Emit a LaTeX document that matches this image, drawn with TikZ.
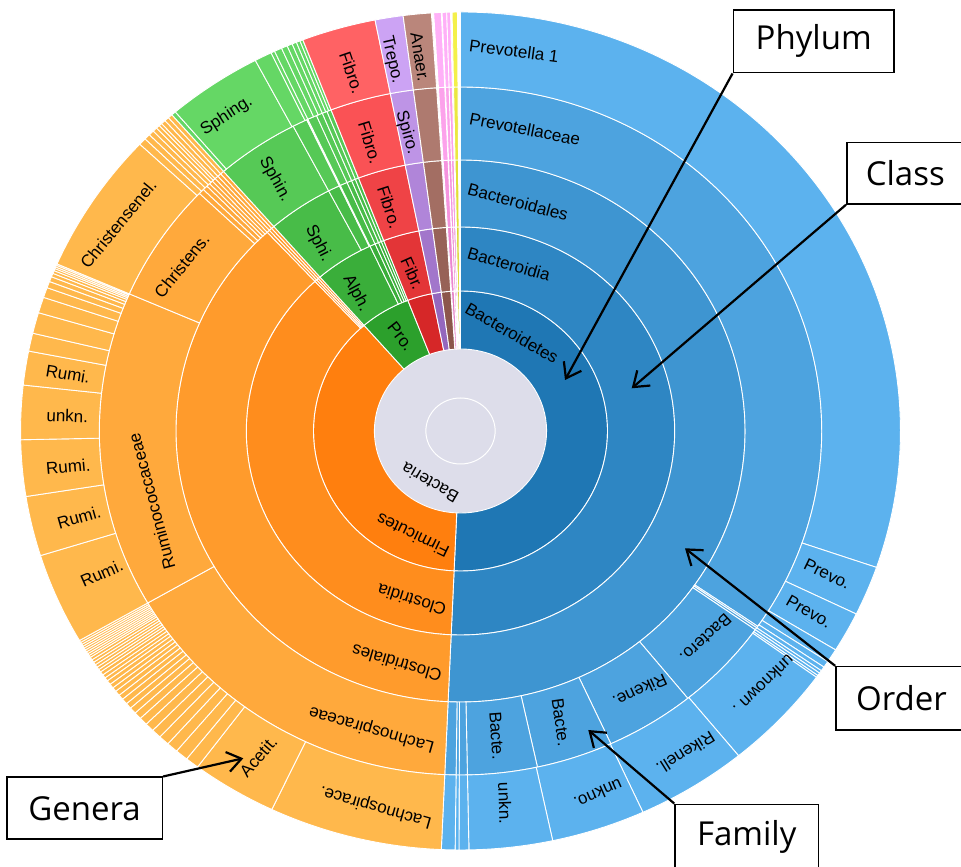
\documentclass[tikz,border=0pt]{standalone}
\usepackage{fontspec}
\setmainfont{Liberation Sans}
\newfontfamily\calloutfont{Open Sans}
\usepackage{tikz}
\usetikzlibrary{arrows.meta}
\definecolor{sbblue1}{RGB}{31,119,180}
\definecolor{sbblue2}{RGB}{46,134,195}
\definecolor{sbblue3}{RGB}{62,149,209}
\definecolor{sbblue4}{RGB}{77,163,223}
\definecolor{sbblue5}{RGB}{92,178,238}
\definecolor{sborange1}{RGB}{255,127,14}
\definecolor{sborange2}{RGB}{255,141,29}
\definecolor{sborange3}{RGB}{255,155,44}
\definecolor{sborange4}{RGB}{255,169,60}
\definecolor{sborange5}{RGB}{255,184,76}
\definecolor{sbgreen1}{RGB}{44,160,44}
\definecolor{sbgreen2}{RGB}{58,174,58}
\definecolor{sbgreen3}{RGB}{72,188,72}
\definecolor{sbgreen4}{RGB}{86,201,86}
\definecolor{sbgreen5}{RGB}{101,215,101}
\definecolor{sbred1}{RGB}{214,39,40}
\definecolor{sbred2}{RGB}{227,53,55}
\definecolor{sbred3}{RGB}{239,67,70}
\definecolor{sbred4}{RGB}{250,82,85}
\definecolor{sbred5}{RGB}{255,98,100}
\definecolor{sbpurple1}{RGB}{148,103,189}
\definecolor{sbpurple2}{RGB}{162,118,203}
\definecolor{sbpurple3}{RGB}{176,133,217}
\definecolor{sbpurple4}{RGB}{190,148,230}
\definecolor{sbpurple5}{RGB}{204,163,244}
\definecolor{sbbrown1}{RGB}{140,86,75}
\definecolor{sbbrown2}{RGB}{151,98,87}
\definecolor{sbbrown3}{RGB}{163,110,99}
\definecolor{sbbrown4}{RGB}{174,122,111}
\definecolor{sbbrown5}{RGB}{186,134,123}
\definecolor{sbpink1}{RGB}{227,119,194}
\definecolor{sbpink2}{RGB}{236,133,208}
\definecolor{sbpink3}{RGB}{245,148,222}
\definecolor{sbpink4}{RGB}{252,162,235}
\definecolor{sbpink5}{RGB}{255,176,248}
\definecolor{sbyellow1}{RGB}{205,205,34}
\definecolor{sbyellow2}{RGB}{215,214,44}
\definecolor{sbyellow3}{RGB}{225,223,54}
\definecolor{sbyellow4}{RGB}{235,232,64}
\definecolor{sbyellow5}{RGB}{244,240,74}
\definecolor{sbdisc}{RGB}{221,221,234}

% annular sector: inner r, outer r, from, to (clockwise from north), colour
\newcommand{\ringseg}[5]{%
  \filldraw[fill=#5, draw=white, line width=0.9pt]
    ({90-(#3)}:#1) -- ({90-(#3)}:#2)
    arc[start angle={90-(#3)}, end angle={90-(#4)}, radius=#2]
    -- ({90-(#4)}:#1)
    arc[start angle={90-(#4)}, end angle={90-(#3)}, radius=#1] -- cycle;}

\begin{document}
\begin{tikzpicture}[x=1pt, y=1pt,
    lbl/.style={font=\fontsize{17}{17}\selectfont, inner sep=0pt},
    callout/.style={draw=black, line width=1.6pt, fill=white, inner sep=0pt,
                    font=\calloutfont\fontsize{33}{33}\selectfont},
    pointer/.style={-{Straight Barb[length=14pt, width=20pt]}, line width=2.2pt, black}
  ]
  \useasboundingbox (0,0) rectangle (961,867);
  \clip (0,0) rectangle (961,867);

  \begin{scope}[shift={(460.5,436)}, xscale=1.05]
    \fill[sbdisc] (0,0) circle[radius=82];
    \draw[white, line width=1pt] (0,0) circle[radius=33];

    % phylum
    \ringseg{82}{140}{0}{182.5}{sbblue1}
    \ringseg{82}{140}{182.5}{319}{sborange1}
    \ringseg{82}{140}{319}{339}{sbgreen1}

    % class
    \ringseg{140}{204}{0}{182.5}{sbblue2}
    \ringseg{140}{204}{182.5}{317.2}{sborange2}
    \foreach \a [remember=\a as \p (initially 317.2)] in {317.8,318.4,319}
      {\ringseg{140}{204}{\p}{\a}{sborange2}}
    \ringseg{140}{204}{319}{335}{sbgreen2}
    \foreach \a [remember=\a as \p (initially 335)] in {336.5,337.5,338.3,339}
      {\ringseg{140}{204}{\p}{\a}{sbgreen2}}

    % order
    \ringseg{204}{271}{0}{182.5}{sbblue3}
    \ringseg{204}{271}{182.5}{317.2}{sborange3}
    \foreach \a [remember=\a as \p (initially 317.2)] in {317.8,318.4,319}
      {\ringseg{204}{271}{\p}{\a}{sborange3}}
    \ringseg{204}{271}{319}{332.4}{sbgreen3}
    \ringseg{204}{271}{332.4}{334.8}{sbgreen3}
    \foreach \a [remember=\a as \p (initially 334.8)] in {335,336.5,337.5,338.3,339}
      {\ringseg{204}{271}{\p}{\a}{sbgreen3}}

    % family
    \ringseg{271}{344}{0}{124.6}{sbblue4}
    \ringseg{271}{344}{124.6}{124.9}{sbblue4}
    \ringseg{271}{344}{124.9}{125.3}{sbblue4}
    \ringseg{271}{344}{125.3}{141}{sbblue4}
    \ringseg{271}{344}{141}{155.4}{sbblue4}
    \ringseg{271}{344}{155.4}{167.7}{sbblue4}
    \ringseg{271}{344}{167.7}{178.9}{sbblue4}
    \foreach \a [remember=\a as \p (initially 178.9)] in {180.2,180.7,182.5}
      {\ringseg{271}{344}{\p}{\a}{sbblue4}}
    \ringseg{271}{344}{182.5}{240}{sborange4}
    \ringseg{271}{344}{240}{293.5}{sborange4}
    \ringseg{271}{344}{293.5}{313.7}{sborange4}
    \foreach \a [remember=\a as \p (initially 313.7)] in {314.6,315.4,316,316.6,317.2,317.8,318.4,319}
      {\ringseg{271}{344}{\p}{\a}{sborange4}}
    \ringseg{271}{344}{319}{332.4}{sbgreen4}
    \ringseg{271}{344}{332.4}{334.8}{sbgreen4}
    \foreach \a [remember=\a as \p (initially 334.8)] in {335,336.5,337.5,338.3,339}
      {\ringseg{271}{344}{\p}{\a}{sbgreen4}}

    % genus
    \ringseg{344}{419}{0}{109}{sbblue5}
    \ringseg{344}{419}{109}{115.9}{sbblue5}
    \ringseg{344}{419}{115.9}{121.5}{sbblue5}
    \foreach \a [remember=\a as \p (initially 121.5)] in {123.4,124.3,124.9,125.3,125.7,126}
      {\ringseg{344}{419}{\p}{\a}{sbblue5}}
    \ringseg{344}{419}{126}{140.8}{sbblue5}
    \ringseg{344}{419}{140.8}{155.5}{sbblue5}
    \ringseg{344}{419}{155.5}{167.9}{sbblue5}
    \ringseg{344}{419}{167.9}{178.9}{sbblue5}
    \foreach \a [remember=\a as \p (initially 178.9)] in {180.2,180.7,182.5}
      {\ringseg{344}{419}{\p}{\a}{sbblue5}}
    \ringseg{344}{419}{182.5}{205.4}{sborange5}
    \ringseg{344}{419}{205.4}{216.7}{sborange5}
    \foreach \a [remember=\a as \p (initially 216.7)] in {218.5,220.2,221.7,223.1,224.4,225.6,226.7,227.7,
        228.6,229.4,230.2,230.9,231.6,232.2,232.8,233.4,233.9,234.4,234.9,235.3,235.7,236.1,
        236.5,236.9,237.3,237.6,237.9,238.2,238.5,238.8,239.1,239.4,239.7,240}
      {\ringseg{344}{419}{\p}{\a}{sborange5}}
    \ringseg{344}{419}{240}{252.7}{sborange5}
    \ringseg{344}{419}{252.7}{261}{sborange5}
    \ringseg{344}{419}{261}{268.8}{sborange5}
    \ringseg{344}{419}{268.8}{276.3}{sborange5}
    \ringseg{344}{419}{276.3}{281}{sborange5}
    \foreach \a [remember=\a as \p (initially 281)] in {283.5,286.4,288.6,290,290.9,291.6,292.1,292.5,
        292.8,293.05,293.3,293.5}
      {\ringseg{344}{419}{\p}{\a}{sborange5}}
    \ringseg{344}{419}{293.5}{313.2}{sborange5}
    \foreach \a [remember=\a as \p (initially 313.2)] in {314.2,315,315.7,316.3,316.8,317.2,317.8,318.4,319}
      {\ringseg{344}{419}{\p}{\a}{sborange5}}
    \ringseg{344}{419}{319}{319.6}{sbgreen5}
    \ringseg{344}{419}{319.6}{332.2}{sbgreen5}
    \ringseg{344}{419}{332.2}{334.5}{sbgreen5}
    \foreach \a [remember=\a as \p (initially 334.5)] in {335,336,336.8,337.5,338.1,338.6,339}
      {\ringseg{344}{419}{\p}{\a}{sbgreen5}}

    % small phyla, same cut in every ring
    \foreach \ri/\ro/\lv in {82/140/1, 140/204/2, 204/271/3, 271/344/4, 344/419/5} {
      \ringseg{\ri}{\ro}{339}{348.8}{sbred\lv}
      \ringseg{\ri}{\ro}{348.8}{352.5}{sbpurple\lv}
      \ringseg{\ri}{\ro}{352.5}{356.2}{sbbrown\lv}
      \ringseg{\ri}{\ro}{356.5}{357.5}{sbpink\lv}
      \ringseg{\ri}{\ro}{357.6}{358.2}{sbpink\lv}
      \ringseg{\ri}{\ro}{358.2}{358.7}{sbpink\lv}
      \ringseg{\ri}{\ro}{358.9}{359.6}{sbyellow\lv}
    }
  \end{scope}

  % ring labels
  \node[lbl, rotate=150] (bacteria) at (430,384) {Bacteria};
  \node[lbl, rotate=-30] (bacteroidetes) at (512,534) {Bacteroidetes};
  \node[lbl, rotate=154] (firmicutes) at (412.7,331.7) {Firmicutes};
  \node[lbl, rotate=-52] (pro) at (400.7,530.3) {Pro.};
  \node[lbl, rotate=-16] (bacteroidia) at (509,603) {Bacteroidia};
  \node[lbl, rotate=-15] (bacteroidales) at (518,665) {Bacteroidales};
  \node[lbl, rotate=-11] (prevotellaceae) at (525,738) {Prevotellaceae};
  \node[lbl, rotate=-7.5] (prevotella) at (514,816) {Prevotella 1};
  \node[lbl, rotate=162.5] (clostridia) at (411.7,267) {Clostridia};
  \node[lbl, rotate=163.6] (clostridiales) at (396.7,203.7) {Clostridiales};
  \node[lbl, rotate=164] (lachnofam) at (371.7,138) {Lachnospiraceae};
  \node[lbl, rotate=164] (lachnogen) at (375.7,60.3) {Lachnospirace.};
  \node[lbl, rotate=49] (acetit) at (258.3,110.3) {Acetit.};
  \node[lbl, rotate=24] (rumiA) at (101.7,293.7) {Rumi.};
  \node[lbl, rotate=16] (rumiB) at (79,349.7) {Rumi.};
  \node[lbl, rotate=5] (rumiC) at (68.3,400.3) {Rumi.};
  \node[lbl, rotate=-2] (unknA) at (67.3,451) {unkn.};
  \node[lbl, rotate=-9.6] (rumiD) at (68,493) {Rumi.};
  \node[lbl, rotate=105] (ruminofam) at (151.7,365.3) {Ruminococcaceae};
  \node[lbl, rotate=51] (christfam) at (181.7,601.3) {Christens.};
  \node[lbl, rotate=50.5] (christgen) at (118.3,643) {Christensenel.};
  \node[lbl, rotate=-62] (alph) at (356,573.7) {Alph.};
  \node[lbl, rotate=-63] (sphi) at (318.3,623.7) {Sphi.};
  \node[lbl, rotate=-61] (sphin) at (275,687.7) {Sphin.};
  \node[lbl, rotate=33] (sphing) at (226.7,751) {Sphing.};
  \node[lbl, rotate=-66] (fibrA) at (412.3,593.7) {Fibr.};
  \node[lbl, rotate=-72] (fibrB) at (389.3,659.7) {Fibro.};
  \node[lbl, rotate=-73] (fibrC) at (370,724.3) {Fibro.};
  \node[lbl, rotate=-71] (fibrD) at (351.7,794.3) {Fibro.};
  \node[lbl, rotate=-74] (spiro) at (406.7,734.3) {Spiro.};
  \node[lbl, rotate=-77] (trepo) at (391.7,807) {Trepo.};
  \node[lbl, rotate=-81] (anaer) at (420,809.7) {Anaer.};
  \node[lbl, rotate=-26] (prevoA) at (827.3,293) {Prevo.};
  \node[lbl, rotate=-30] (prevoB) at (809,255.3) {Prevo.};
  \node[lbl, rotate=223] (bactero) at (705.7,228.7) {Bactero.};
  \node[lbl, rotate=205] (rikene) at (640,176.3) {Rikene.};
  \node[lbl, rotate=-82] (bacteA) at (560.7,144.7) {Bacte.};
  \node[lbl, rotate=-86] (bacteB) at (496.7,131.3) {Bacte.};
  \node[lbl, rotate=224] (unknown) at (764,182) {unknown .};
  \node[lbl, rotate=212] (rikenell) at (685.7,113.7) {Rikenell.};
  \node[lbl, rotate=204] (unkno) at (598.3,73) {unkno.};
  \node[lbl, rotate=-88] (unknB) at (505,63.7) {unkn.};

  % call-outs
  \node[callout, minimum width=160.7, minimum height=62.7] (phylumbox) at (813.7,825.7) {Phylum};
  \node[callout, minimum width=117, minimum height=61.3] (classbox) at (905.3,693.7) {Class};
  \node[callout, minimum width=131, minimum height=63.3] (orderbox) at (901.5,168.7) {Order};
  \node[callout, minimum width=143.3, minimum height=64.7] (familybox) at (746.7,30.3) {Family};
  \node[callout, minimum width=155.6, minimum height=62] (generabox) at (84.5,58.7) {Genera};

  \coordinate (phylumtip) at (565,487);
  \coordinate (classtip) at (631.7,478.7);
  \coordinate (ordertip) at (685,318.7);
  \coordinate (familytip) at (588.3,137);
  \coordinate (generatip) at (243.3,108.7);

  \draw[pointer] (phylumbox.south west) -- (phylumtip);
  \draw[pointer] (classbox.south west) -- (classtip);
  \draw[pointer] (orderbox.north west) -- (ordertip);
  \draw[pointer] (familybox.north west) -- (familytip);
  \draw[pointer] (generabox.north east) -- (generatip);
\end{tikzpicture}
\end{document}
